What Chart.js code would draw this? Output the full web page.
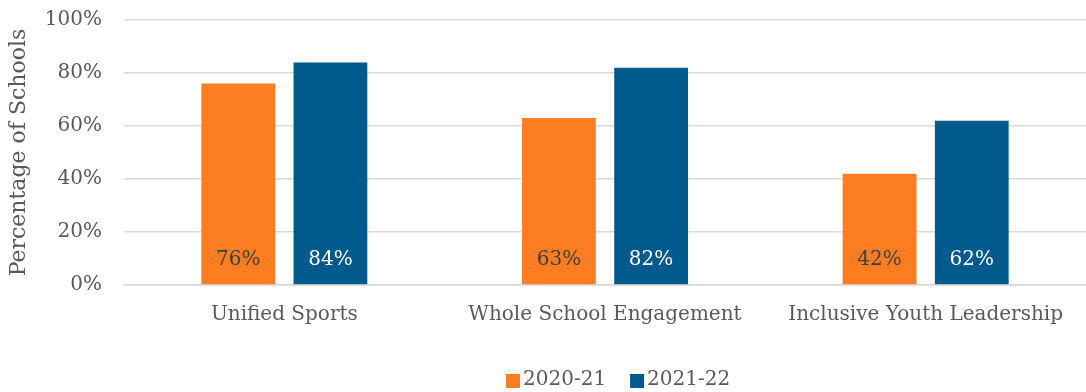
<!DOCTYPE html>
<html>
<head>
<meta charset="utf-8">
<script src="https://cdn.jsdelivr.net/npm/chart.js@4.4.0/dist/chart.umd.min.js"></script>
<style>
  html, body { margin: 0; padding: 0; background: #fff; }
  #wrap { position: relative; width: 1086px; height: 392px; }
</style>
</head>
<body>
<div id="wrap"><canvas id="myChart"></canvas></div>
<script>
const categories = ['Unified Sports', 'Whole School Engagement', 'Inclusive Youth Leadership'];
const seriesNames = ['2020-21', '2021-22'];
const values2021 = [76, 63, 42];
const values2122 = [84, 82, 62];
const yTicks = [0, 20, 40, 60, 80, 100];

const orange = '#FD7D22';
const blue = '#005A8B';
const grey = '#595959';
const serif = "'DejaVu Serif', serif";

// values written inside each bar, near its base
const barLabels = {
  id: 'barLabels',
  afterDatasetsDraw(chart) {
    const ctx = chart.ctx;
    const base = chart.scales.y.getPixelForValue(0);
    ctx.save();
    ctx.font = '20px ' + serif;
    ctx.textAlign = 'center';
    ctx.textBaseline = 'middle';
    chart.data.datasets.forEach((ds, i) => {
      chart.getDatasetMeta(i).data.forEach((bar, j) => {
        ctx.fillStyle = i === 0 ? '#404040' : '#ffffff';
        ctx.fillText(ds.data[j] + '%', bar.x, base - 25);
      });
    });
    ctx.restore();
  }
};

// legend row along the bottom, square swatch tight against its label
const bottomLegend = {
  id: 'bottomLegend',
  afterDraw(chart) {
    const ctx = chart.ctx;
    ctx.save();
    ctx.font = '20px ' + serif;
    ctx.textBaseline = 'middle';
    let x = 506;
    const y = 380;
    chart.data.datasets.forEach(ds => {
      ctx.fillStyle = ds.backgroundColor;
      ctx.fillRect(x, y - 6, 14, 14);
      ctx.fillStyle = grey;
      ctx.fillText(ds.label, x + 17, y);
      x += 17 + ctx.measureText(ds.label).width + 24;
    });
    ctx.restore();
  }
};

const ctx = document.getElementById('myChart').getContext('2d');
const myChart = new Chart(ctx, {
  type: 'bar',
  data: {
    labels: categories,
    datasets: [
      { label: seriesNames[0], data: values2021, backgroundColor: orange },
      { label: seriesNames[1], data: values2122, backgroundColor: blue }
    ]
  },
  options: {
    responsive: true,
    maintainAspectRatio: false,
    animation: false,
    layout: { padding: { top: 20, right: 0, left: 6, bottom: 55 } },
    datasets: { bar: { categoryPercentage: 0.575, barPercentage: 0.8 } },
    scales: {
      x: {
        grid: { display: false },
        border: { color: '#d9d9d9', width: 1.5 },
        ticks: { color: grey, font: { family: serif, size: 20 }, padding: 10, maxRotation: 0 }
      },
      y: {
        min: 0,
        max: 100,
        afterBuildTicks(axis) { axis.ticks = yTicks.map(v => ({ value: v })); },
        afterFit(axis) { axis.width = 118; },
        grid: { color: '#d9d9d9', lineWidth: 1.5, drawTicks: true, tickLength: 20, tickColor: 'rgba(0,0,0,0)' },
        border: { display: false },
        ticks: { color: grey, font: { family: serif, size: 20 }, padding: 2, callback: v => v + '%' },
        title: { display: true, text: 'Percentage of Schools', color: grey, font: { family: serif, size: 22 }, padding: 0 }
      }
    },
    plugins: {
      legend: { display: false },
      tooltip: { enabled: false }
    }
  },
  plugins: [barLabels, bottomLegend]
});
</script>
</body>
</html>
